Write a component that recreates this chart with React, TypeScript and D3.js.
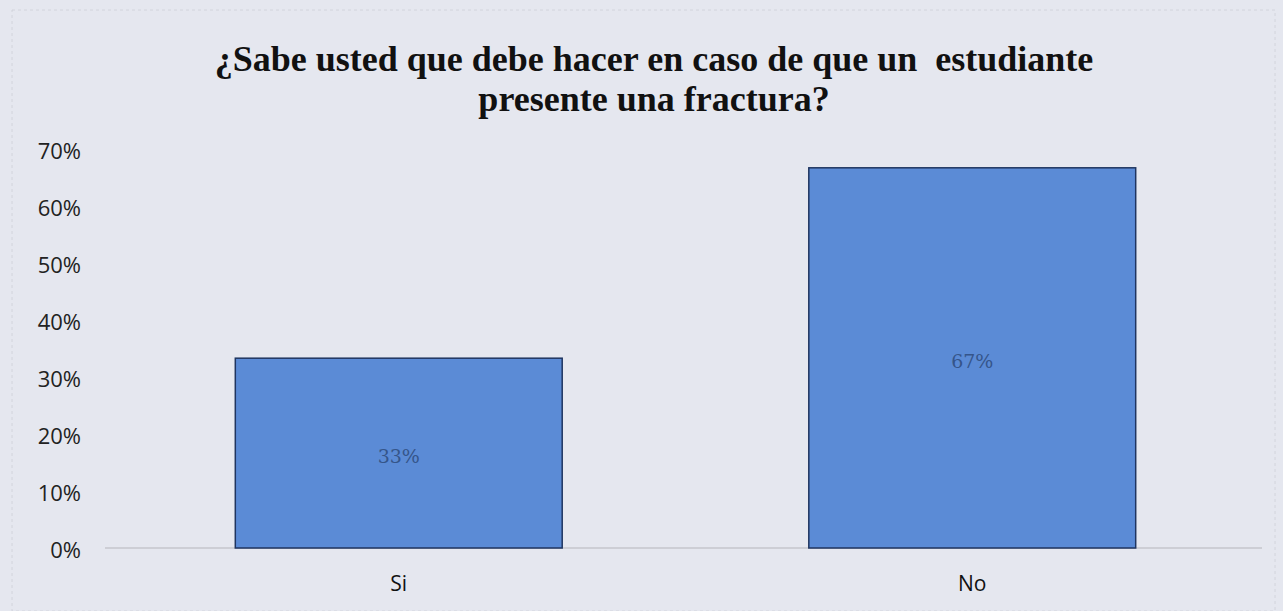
import React, { useEffect, useRef } from "react";
import * as d3 from "d3";

const categories = ["Si", "No"];
const values = [0.333, 0.667];
const valueLabels = ["33%", "67%"];
const yTicks = [0, 0.1, 0.2, 0.3, 0.4, 0.5, 0.6, 0.7];
const titleLines = [
  "¿Sabe usted que debe hacer en caso de que un  estudiante",
  "presente una fractura?",
];

const App = () => {
  const ref = useRef<SVGSVGElement>(null);

  useEffect(() => {
    const width = 1283;
    const height = 611;
    const svg = d3.select(ref.current).attr("width", width).attr("height", height);
    svg.selectAll("*").remove();

    svg.append("rect")
      .attr("width", width)
      .attr("height", height)
      .attr("fill", "#e5e7ef");

    svg.append("rect")
      .attr("x", 12)
      .attr("y", 10)
      .attr("width", width - 20)
      .attr("height", height - 10)
      .attr("fill", "none")
      .attr("stroke", "#d2d4dc")
      .attr("stroke-dasharray", "3,3");

    const x = d3.scaleBand()
      .domain(categories)
      .range([112, 1259])
      .paddingInner(0.43)
      .paddingOuter(0.215);

    const y = d3.scaleLinear().domain([0, 0.7]).range([548, 149]);

    // title
    svg.append("g")
      .selectAll("text")
      .data(titleLines)
      .enter()
      .append("text")
      .attr("x", 654)
      .attr("y", (d, i) => 71 + i * 40)
      .attr("text-anchor", "middle")
      .attr("font-family", "Liberation Serif")
      .attr("font-weight", "bold")
      .attr("font-size", "36px")
      .attr("fill", "#111")
      .style("white-space", "pre")
      .text(d => d);

    // y tick labels
    svg.append("g")
      .selectAll("text")
      .data(yTicks)
      .enter()
      .append("text")
      .attr("x", 81)
      .attr("y", d => y(d) + 10)
      .attr("text-anchor", "end")
      .attr("font-family", "Open Sans")
      .attr("font-size", "22px")
      .attr("fill", "#222")
      .text(d => d3.format(".0%")(d));

    // baseline
    svg.append("line")
      .attr("x1", 105)
      .attr("x2", 1262)
      .attr("y1", y(0))
      .attr("y2", y(0))
      .attr("stroke", "#c4c6cc")
      .attr("stroke-width", 1.5);

    const bars = svg.append("g")
      .selectAll("g")
      .data(categories.map((c, i) => ({ c, v: values[i], l: valueLabels[i] })))
      .enter()
      .append("g");

    bars.append("rect")
      .attr("x", d => x(d.c)!)
      .attr("y", d => y(d.v))
      .attr("width", x.bandwidth())
      .attr("height", d => y(0) - y(d.v))
      .attr("fill", "#5b8bd6")
      .attr("stroke", "#1f3560")
      .attr("stroke-width", 1.5);

    bars.append("text")
      .attr("x", d => x(d.c)! + x.bandwidth() / 2)
      .attr("y", d => (y(d.v) + y(0)) / 2 + 10)
      .attr("text-anchor", "middle")
      .attr("font-family", "DejaVu Serif")
      .attr("font-size", "19px")
      .attr("fill", "#35558a")
      .text(d => d.l);

    bars.append("text")
      .attr("x", d => x(d.c)! + x.bandwidth() / 2)
      .attr("y", 591)
      .attr("text-anchor", "middle")
      .attr("font-family", "Open Sans")
      .attr("font-size", "21px")
      .attr("fill", "#111")
      .text(d => d.c);
  }, []);

  return (
    <svg ref={ref} style={{ position: "absolute", left: 0, top: 0 }}></svg>
  );
};

export default App;
